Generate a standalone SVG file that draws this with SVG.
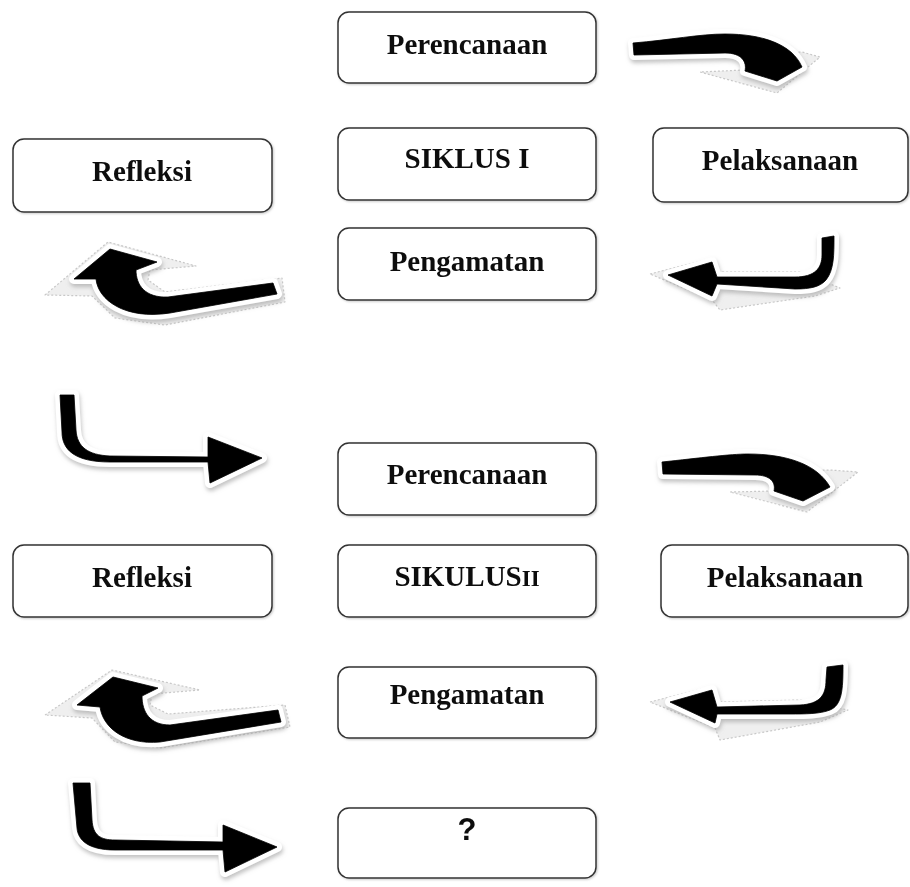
<svg xmlns="http://www.w3.org/2000/svg" width="910" height="887" viewBox="0 0 910 887">
<defs>
<filter id="sh" x="-20%" y="-20%" width="140%" height="160%">
<feGaussianBlur in="SourceAlpha" stdDeviation="2"/>
<feOffset dx="1" dy="3" result="b"/>
<feFlood flood-color="#9a9a9a" flood-opacity="0.6"/>
<feComposite in2="b" operator="in"/>
<feMerge><feMergeNode/><feMergeNode in="SourceGraphic"/></feMerge>
</filter>
<filter id="bs" x="-10%" y="-10%" width="120%" height="130%">
<feGaussianBlur in="SourceAlpha" stdDeviation="1"/>
<feOffset dx="1" dy="1" result="b"/>
<feFlood flood-color="#777" flood-opacity="0.4"/>
<feComposite in2="b" operator="in"/>
<feMerge><feMergeNode/><feMergeNode in="SourceGraphic"/></feMerge>
</filter>
</defs>
<style>
.box rect{fill:#fff;stroke:#333;stroke-width:1.5}
.box text{font-family:"Liberation Serif","Times New Roman",serif;font-weight:bold;font-size:29px;fill:#111;text-anchor:middle}
.box text.q{font-family:"Liberation Sans",Arial,sans-serif;font-size:31px}
.base{fill:#efefef;stroke:#c8c8c8;stroke-width:1.2;stroke-dasharray:2 2;stroke-linejoin:round}
.halo{fill:#fff;stroke:#fff;stroke-width:10;stroke-linejoin:round;filter:url(#sh)}
.body{fill:#000;stroke:#000;stroke-width:0.8;stroke-linejoin:round}
</style>
<rect width="910" height="887" fill="#fff"/>
<g id="connectors">
<g id="arrowA">
<polygon class="base" points="630,54 736,54 744,70 700,72 777,93 820,57 802,52"/>
<path class="halo" d="M633,43 C670,40 700,34 725,34 C762,34 792,44 802,67 L777,81 L745,71 C747,62 742,53 725,53 L634,55 Z"/>
<path class="body" d="M633,43 C670,40 700,34 725,34 C762,34 792,44 802,67 L777,81 L745,71 C747,62 742,53 725,53 L634,55 Z"/>
</g>
<g id="arrowB">
<polygon class="base" points="45,295 108,242 196,266 150,270 148,280 165,292 282,278 285,302 165,325 115,318 92,296"/>
<path class="halo" d="M110,249 L157,262 L136,270 C136,285 145,298 168,297 L273,283 L277,294 L170,313 C125,320 98,300 96,279 L74,279 Z"/>
<path class="body" d="M110,249 L157,262 L136,270 C136,285 145,298 168,297 L273,283 L277,294 L170,313 C125,320 98,300 96,279 L74,279 Z"/>
</g>
<g id="arrowC">
<polygon class="base" points="650,274 712,258 717,272 800,272 840,288 815,296 720,310 712,300"/>
<path class="halo" d="M822,238 L834,236 C834,255 834,270 826,280 C820,287 810,289 795,289 L717,284 L712,296 L668,275 L712,262 L717,277 L795,277 C815,277 822,268 822,255 Z"/>
<path class="body" d="M822,238 L834,236 C834,255 834,270 826,280 C820,287 810,289 795,289 L717,284 L712,296 L668,275 L712,262 L717,277 L795,277 C815,277 822,268 822,255 Z"/>
</g>
<g id="arrowD">
<path class="halo" d="M60,395 L74,395 L76,430 C77,447 88,455 110,456 L208,457 L208,437 L262,458 L210,483 L208,462 L110,462 C75,462 62,450 62,432 Z"/>
<path class="body" d="M60,395 L74,395 L76,430 C77,447 88,455 110,456 L208,457 L208,437 L262,458 L210,483 L208,462 L110,462 C75,462 62,450 62,432 Z"/>
</g>
<g id="arrowE">
<polygon class="base" points="659,474 768,475 774,491 730,492 807,512 858,472 830,470"/>
<path class="halo" d="M662,462 C700,458 730,454 748,454 C786,454 817,464 830,487 L803,501 L774,491 C776,482 770,475 755,475 L663,474 Z"/>
<path class="body" d="M662,462 C700,458 730,454 748,454 C786,454 817,464 830,487 L803,501 L774,491 C776,482 770,475 755,475 L663,474 Z"/>
</g>
<g id="arrowF">
<polygon class="base" points="45,715 112,670 200,690 152,694 150,705 168,714 285,705 290,727 160,748 115,742 92,718"/>
<path class="halo" d="M113,677 L158,688 L142,696 C142,712 150,725 170,725 L278,710 L281,722 L160,742 C125,745 103,728 100,707 L77,705 Z"/>
<path class="body" d="M113,677 L158,688 L142,696 C142,712 150,725 170,725 L278,710 L281,722 L160,742 C125,745 103,728 100,707 L77,705 Z"/>
</g>
<g id="arrowG">
<polygon class="base" points="650,702 712,686 717,702 800,700 848,710 820,722 720,740 715,728"/>
<path class="halo" d="M827,667 L843,665 C843,690 842,705 830,710 C820,714 805,714 790,714 L717,714 L715,723 L670,702 L712,690 L717,707 L800,705 C820,704 826,695 826,680 Z"/>
<path class="body" d="M827,667 L843,665 C843,690 842,705 830,710 C820,714 805,714 790,714 L717,714 L715,723 L670,702 L712,690 L717,707 L800,705 C820,704 826,695 826,680 Z"/>
</g>
<g id="arrowH">
<path class="halo" d="M73,783 L90,783 L92,820 C93,835 100,840 115,840 L223,842 L223,825 L277,847 L225,872 L223,850 L115,850 C88,850 78,840 77,828 Z"/>
<path class="body" d="M73,783 L90,783 L92,820 C93,835 100,840 115,840 L223,842 L223,825 L277,847 L225,872 L223,850 L115,850 C88,850 78,840 77,828 Z"/>
</g>
</g>
<g id="perencanaan1" class="box" filter="url(#bs)"><rect x="338" y="12" width="258" height="71" rx="11"/><text x="467" y="54">Perencanaan</text></g>
<g id="refleksi1" class="box" filter="url(#bs)"><rect x="13" y="139" width="259" height="73" rx="11"/><text x="142" y="181">Refleksi</text></g>
<g id="siklus1" class="box" filter="url(#bs)"><rect x="338" y="128" width="258" height="72" rx="11"/><text x="467" y="168">SIKLUS I</text></g>
<g id="pelaksanaan1" class="box" filter="url(#bs)"><rect x="653" y="128" width="255" height="74" rx="11"/><text x="780" y="170">Pelaksanaan</text></g>
<g id="pengamatan1" class="box" filter="url(#bs)"><rect x="338" y="228" width="258" height="72" rx="11"/><text x="467" y="271">Pengamatan</text></g>
<g id="perencanaan2" class="box" filter="url(#bs)"><rect x="338" y="443" width="258" height="72" rx="11"/><text x="467" y="484">Perencanaan</text></g>
<g id="refleksi2" class="box" filter="url(#bs)"><rect x="13" y="545" width="259" height="72" rx="11"/><text x="142" y="587">Refleksi</text></g>
<g id="siklus2" class="box" filter="url(#bs)"><rect x="338" y="545" width="258" height="72" rx="11"/><text x="467" y="586">SIKULUS<tspan font-size="23">II</tspan></text></g>
<g id="pelaksanaan2" class="box" filter="url(#bs)"><rect x="661" y="545" width="247" height="72" rx="11"/><text x="785" y="587">Pelaksanaan</text></g>
<g id="pengamatan2" class="box" filter="url(#bs)"><rect x="338" y="667" width="258" height="71" rx="11"/><text x="467" y="704">Pengamatan</text></g>
<g id="question" class="box" filter="url(#bs)"><rect x="338" y="808" width="258" height="70" rx="11"/><text class="q" x="467" y="840">?</text></g>
</svg>
